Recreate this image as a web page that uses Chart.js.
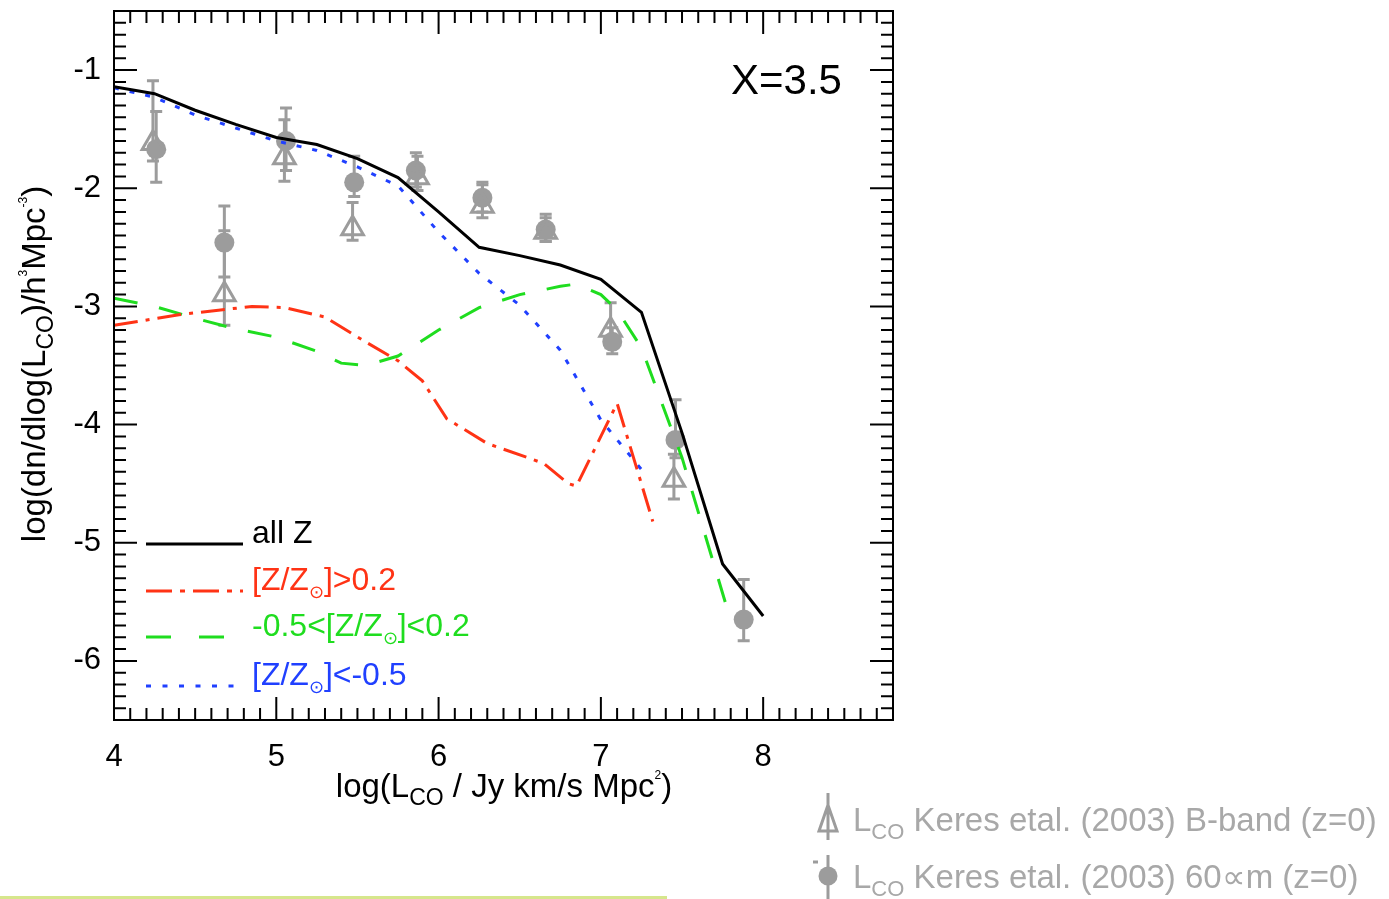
<!DOCTYPE html>
<html>
<head>
<meta charset="utf-8">
<script src="https://cdn.jsdelivr.net/npm/chart.js@4.4.1/dist/chart.umd.min.js"></script>
<style>
  html, body { margin: 0; padding: 0; background: #fff; }
  #wrap { width: 1389px; height: 899px; position: relative; }
</style>
</head>
<body>
<div id="wrap"><canvas id="lf"></canvas></div>
<script>
// model curves: log L_CO vs log phi
const lcoAll = [4.0, 4.25, 4.5, 4.75, 5.0, 5.25, 5.5, 5.75, 6.0, 6.25, 6.5, 6.75, 7.0, 7.25, 7.5, 7.75, 8.0];
const phiAll = [-1.14, -1.20, -1.34, -1.46, -1.57, -1.63, -1.75, -1.91, -2.20, -2.50, -2.57, -2.65, -2.77, -3.05, -4.07, -5.18, -5.62];

const lcoHigh = [4.0, 4.4, 4.85, 5.05, 5.3, 5.55, 5.75, 5.9, 6.05, 6.3, 6.55, 6.65, 6.8, 6.85, 7.1, 7.32];
const phiHigh = [-3.16, -3.07, -3.00, -3.01, -3.09, -3.30, -3.46, -3.63, -3.95, -4.16, -4.28, -4.33, -4.50, -4.52, -3.82, -4.82];

const lcoMid = [4.0, 4.25, 4.5, 4.75, 5.0, 5.25, 5.4, 5.55, 5.75, 6.0, 6.25, 6.5, 6.75, 6.85, 7.0, 7.1, 7.25, 7.5, 7.77];
const phiMid = [-2.93, -3.00, -3.10, -3.19, -3.26, -3.38, -3.48, -3.50, -3.42, -3.20, -3.01, -2.90, -2.83, -2.81, -2.90, -3.03, -3.35, -4.28, -5.52];

const lcoLow = [4.0, 4.25, 4.5, 4.75, 5.0, 5.25, 5.5, 5.75, 6.0, 6.25, 6.5, 6.75, 7.0, 7.25];
const phiLow = [-1.15, -1.23, -1.38, -1.49, -1.60, -1.68, -1.82, -1.98, -2.37, -2.72, -2.99, -3.37, -3.96, -4.38];

// Keres et al. (2003) B-band (triangles)
const bandX  = [4.24, 4.68, 5.05, 5.47, 5.87, 6.27, 6.66, 7.06, 7.45];
const bandY  = [-1.62, -2.90, -1.74, -2.34, -1.91, -2.15, -2.37, -3.20, -4.47];
const bandHi = [-1.09, -2.36, -1.42, -2.12, -1.73, -1.97, -2.25, -2.97, -4.25];
const bandLo = [-1.77, -3.16, -1.94, -2.44, -2.02, -2.25, -2.45, -3.35, -4.63];

// Keres et al. (2003) 60 micron (circles)
const irX  = [4.26, 4.68, 5.06, 5.48, 5.86, 6.27, 6.66, 7.07, 7.46, 7.88];
const irY  = [-1.67, -2.46, -1.60, -1.95, -1.85, -2.08, -2.35, -3.30, -4.13, -5.65];
const irHi = [-1.35, -2.15, -1.32, -1.73, -1.70, -1.95, -2.22, -3.18, -3.79, -5.31];
const irLo = [-1.95, -2.75, -1.85, -2.07, -1.99, -2.20, -2.45, -3.40, -4.28, -5.83];

const xTicks = [4, 5, 6, 7, 8];
const yTicks = [-1, -2, -3, -4, -5, -6];

const RED = '#ff3315', GREEN = '#1fdd1f', BLUE = '#2040ff', GRAY = '#9c9c9c';
const FONT = '"Liberation Sans", Arial, sans-serif';

function pts(xs, ys) { return xs.map((x, i) => ({ x: x, y: ys[i] })); }

// draw text made of pieces (sub/superscripts)
function richText(ctx, parts, x, y, align) {
    let w = 0;
    parts.forEach(p => { ctx.font = p.size + 'px ' + FONT; w += ctx.measureText(p.t).width; });
    let cx = align === 'center' ? x - w / 2 : x;
    ctx.textAlign = 'left';
    ctx.textBaseline = 'alphabetic';
    parts.forEach(p => {
        ctx.font = p.size + 'px ' + FONT;
        ctx.fillText(p.t, cx, y + (p.dy || 0));
        cx += ctx.measureText(p.t).width;
    });
}

const errorBars = {
    id: 'errorBars',
    beforeDatasetsDraw(chart) {
        const ctx = chart.ctx, xs = chart.scales.x, ys = chart.scales.y;
        ctx.save();
        ctx.strokeStyle = GRAY;
        ctx.lineWidth = 3;
        const draw = (X, H, L) => {
            X.forEach((v, i) => {
                const px = xs.getPixelForValue(v);
                const top = ys.getPixelForValue(H[i]), bot = ys.getPixelForValue(L[i]);
                ctx.beginPath();
                ctx.moveTo(px, top); ctx.lineTo(px, bot);
                ctx.moveTo(px - 6, top); ctx.lineTo(px + 6, top);
                ctx.moveTo(px - 6, bot); ctx.lineTo(px + 6, bot);
                ctx.stroke();
            });
        };
        draw(bandX, bandHi, bandLo);
        draw(irX, irHi, irLo);
        ctx.restore();
    }
};

const frame = {
    id: 'frame',
    afterDraw(chart) {
        const ctx = chart.ctx, a = chart.chartArea;
        const xs = chart.scales.x, ys = chart.scales.y;
        ctx.save();
        ctx.strokeStyle = '#000';
        ctx.lineWidth = 2;
        ctx.strokeRect(a.left, a.top, a.right - a.left, a.bottom - a.top);
        ctx.beginPath();
        for (let k = 40; k <= 88; k++) {
            const px = xs.getPixelForValue(k / 10);
            const len = k % 10 === 0 ? 23 : 12;
            ctx.moveTo(px, a.bottom); ctx.lineTo(px, a.bottom - len);
            ctx.moveTo(px, a.top); ctx.lineTo(px, a.top + len);
        }
        for (let k = -65; k <= -5; k++) {
            const py = ys.getPixelForValue(k / 10);
            const len = k % 10 === 0 ? 23 : 12;
            ctx.moveTo(a.left, py); ctx.lineTo(a.left + len, py);
            ctx.moveTo(a.right, py); ctx.lineTo(a.right - len, py);
        }
        ctx.stroke();

        // axis titles
        ctx.fillStyle = '#000';
        richText(ctx, [
            { t: 'log(L', size: 33 }, { t: 'CO', size: 23, dy: 8 },
            { t: ' / Jy km/s Mpc', size: 33 }, { t: '2', size: 12, dy: -18 }, { t: ')', size: 33 }
        ], 504, 797, 'center');
        ctx.save();
        ctx.translate(45, 364);
        ctx.rotate(-Math.PI / 2);
        richText(ctx, [
            { t: 'log(dn/dlog(L', size: 33 }, { t: 'CO', size: 23, dy: 8 },
            { t: ')/h', size: 33 }, { t: '3', size: 12, dy: -18 },
            { t: 'Mpc', size: 33 }, { t: '-3', size: 12, dy: -18 }, { t: ')', size: 33 }
        ], 0, 0, 'center');
        ctx.restore();

        // annotation
        ctx.font = '42px ' + FONT;
        ctx.textAlign = 'left';
        ctx.fillText('X=3.5', 731, 94);

        // legend inside the plot
        const rows = [
            { c: '#000', dash: [], y: 544, parts: [{ t: 'all Z', size: 32 }] },
            { c: RED, dash: [26, 8, 5, 8], y: 591, parts: [{ t: '[Z/Z', size: 32 }, { t: '⊙', size: 18, dy: 8 }, { t: ']>0.2', size: 32 }] },
            { c: GREEN, dash: [25, 28], y: 637, parts: [{ t: '-0.5<[Z/Z', size: 32 }, { t: '⊙', size: 18, dy: 8 }, { t: ']<0.2', size: 32 }] },
            { c: BLUE, dash: [5, 11.5], y: 686, parts: [{ t: '[Z/Z', size: 32 }, { t: '⊙', size: 18, dy: 8 }, { t: ']<-0.5', size: 32 }] }
        ];
        rows.forEach(r => {
            ctx.strokeStyle = r.c;
            ctx.lineWidth = 3;
            ctx.setLineDash(r.dash);
            ctx.beginPath();
            ctx.moveTo(146, r.y); ctx.lineTo(243, r.y);
            ctx.stroke();
            ctx.setLineDash([]);
            ctx.fillStyle = r.c;
            richText(ctx, r.parts, 252, r.y - 1, 'left');
        });

        // observational legend (below right)
        ctx.strokeStyle = GRAY; ctx.fillStyle = GRAY; ctx.lineWidth = 3;
        ctx.beginPath();
        ctx.moveTo(828, 793); ctx.lineTo(828, 840);
        ctx.moveTo(828, 805); ctx.lineTo(819, 831); ctx.lineTo(837, 831); ctx.closePath();
        ctx.stroke();
        ctx.beginPath();
        ctx.moveTo(828, 855); ctx.lineTo(828, 899);
        ctx.moveTo(813, 862); ctx.lineTo(818, 862);
        ctx.stroke();
        ctx.beginPath();
        ctx.arc(828, 876, 9.5, 0, Math.PI * 2);
        ctx.fill();
        ctx.fillStyle = '#a8a8a8';
        richText(ctx, [{ t: 'L', size: 33 }, { t: 'CO', size: 22, dy: 8 }, { t: ' Keres etal. (2003) B-band (z=0)', size: 33 }], 853, 831, 'left');
        richText(ctx, [{ t: 'L', size: 33 }, { t: 'CO', size: 22, dy: 8 }, { t: ' Keres etal. (2003) 60∝m (z=0)', size: 33 }], 853, 888, 'left');

        // thin rule at the bottom of the page
        ctx.fillStyle = '#d6e68c';
        ctx.fillRect(0, 896, 667, 3);
        ctx.restore();
    }
};

const lineDs = (label, xs, ys, color, dash) => ({
    type: 'scatter', label: label, data: pts(xs, ys), showLine: true,
    borderColor: color, borderWidth: 3, borderDash: dash, pointRadius: 0,
    tension: 0, order: 0
});

new Chart(document.getElementById('lf'), {
    data: {
        datasets: [
            lineDs('all Z', lcoAll, phiAll, '#000', []),
            lineDs('[Z/Z⊙]>0.2', lcoHigh, phiHigh, RED, [24, 8, 4, 8]),
            lineDs('-0.5<[Z/Z⊙]<0.2', lcoMid, phiMid, GREEN, [24, 22]),
            lineDs('[Z/Z⊙]<-0.5', lcoLow, phiLow, BLUE, [5, 11]),
            {
                type: 'scatter', label: 'B-band', data: pts(bandX, bandY),
                pointStyle: 'triangle', pointRadius: 12.5, borderColor: GRAY, borderWidth: 3,
                backgroundColor: 'rgba(0,0,0,0)', order: 1
            },
            {
                type: 'scatter', label: '60um', data: pts(irX, irY),
                pointStyle: 'circle', pointRadius: 10, borderWidth: 0,
                backgroundColor: GRAY, borderColor: GRAY, order: 1
            }
        ]
    },
    options: {
        responsive: true,
        maintainAspectRatio: false,
        animation: false,
        layout: { autoPadding: false, padding: { left: 0, top: 11, right: 496, bottom: 0 } },
        plugins: { legend: { display: false }, tooltip: { enabled: false } },
        scales: {
            x: {
                type: 'linear', min: 4, max: 8.8,
                grid: { display: false, drawTicks: false },
                border: { display: false },
                ticks: { font: { family: FONT, size: 31 }, color: '#000', padding: 19, maxRotation: 0 },
                afterBuildTicks: s => { s.ticks = xTicks.map(v => ({ value: v })); },
                afterFit: s => { s.height = 179; s.paddingLeft = 0; s.paddingRight = 0; }
            },
            y: {
                type: 'linear', min: -6.5, max: -0.5,
                grid: { display: false, drawTicks: false },
                border: { display: false },
                ticks: { font: { family: FONT, size: 31 }, color: '#000', padding: 13 },
                afterBuildTicks: s => { s.ticks = yTicks.map(v => ({ value: v })); },
                afterFit: s => { s.width = 114; s.paddingTop = 0; s.paddingBottom = 0; }
            }
        }
    },
    plugins: [errorBars, frame]
});
</script>
</body>
</html>
